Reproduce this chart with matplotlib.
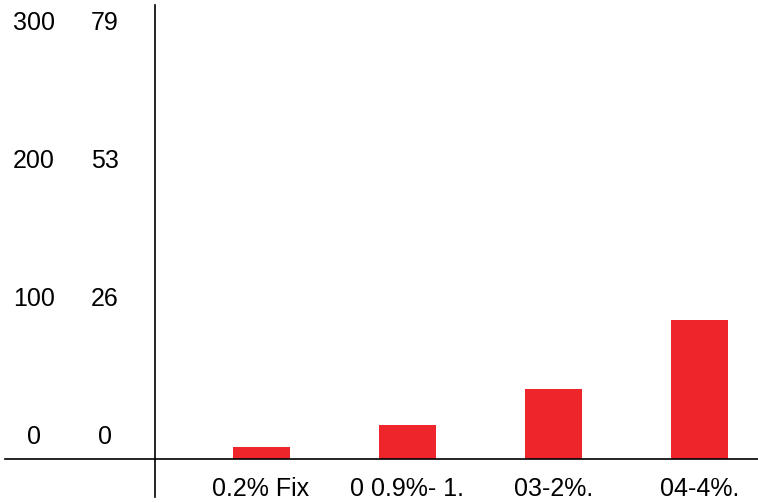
import matplotlib
matplotlib.use('Agg')
import matplotlib.pyplot as plt
import matplotlib.transforms as mtransforms

plt.rcParams['font.family'] = ['Liberation Sans', 'DejaVu Sans']

# data
categories  = ['0.2% Fix', '0 0.9%- 1.', '03-2%.', '04-4%.']
values      = [9, 25, 51, 101]
left_ticks  = [0, 100, 200, 300]
left_labels = ['0', '100', '200', '300']
right_labels = ['0', '26', '53', '79']

W, H = 758, 503
BAR_COLOR = '#ee252b'

fig = plt.figure(figsize=(W / 100, H / 100), dpi=100)
# axes box in pixels: x 155..758, y 5..459
ax = fig.add_axes([155 / W, (H - 459) / H, (W - 155) / W, (459 - 5) / H])

ax.bar(range(len(categories)), values, width=0.39, color=BAR_COLOR, zorder=2)
ax.set_xlim(-0.725, 3.397)
ax.set_ylim(0, 329)

for s in ax.spines.values():
    s.set_visible(False)
ax.set_yticks([])
ax.set_xticks(range(len(categories)))
ax.set_xticklabels(categories, fontsize=18)
ax.tick_params(axis='x', length=0, pad=13)

# axis lines, extended past the plot box like the original
ax_w, ax_h = W - 155, 459 - 5
ax.plot([(5 - 155) / ax_w, 1], [0, 0], transform=ax.transAxes,
        color='black', lw=1.2, clip_on=False)
ax.plot([0, 0], [(459 - 497) / ax_h, 1], transform=ax.transAxes,
        color='black', lw=1.2, clip_on=False)

# two columns of value labels to the left of the axis
lab_trans = mtransforms.offset_copy(ax.transData, fig=fig, x=0, y=22, units='dots')
for col_x, labels in [(34, left_labels), (105, right_labels)]:
    for v, lab in zip(left_ticks, labels):
        tr = mtransforms.blended_transform_factory(fig.transFigure, lab_trans)
        ax.text(col_x / W, v, lab, transform=tr, ha='center', va='center',
                fontsize=18, clip_on=False)

plt.savefig('out.png', dpi=100)
plt.close()
